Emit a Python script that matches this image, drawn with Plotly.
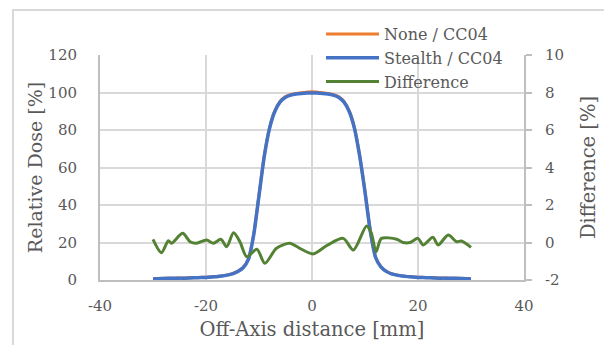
import plotly.graph_objects as go

# ---- data ----
x_dose = list(range(-30, 31))
stealth = [0.6, 0.7, 0.8, 0.9, 0.9, 1.0, 1.0, 1.1, 1.2, 1.3,
           1.4, 1.6, 1.8, 2.1, 2.6, 3.3, 4.5, 6.5, 11, 24,
           45, 66, 81, 90, 95, 97.5, 98.6, 99.2, 99.5, 99.7,
           99.8,
           99.7, 99.5, 99.2, 98.6, 97.5, 95, 90, 81, 66, 47,
           26, 12, 7, 4.6, 3.3, 2.6, 2.1, 1.8, 1.6, 1.4,
           1.3, 1.2, 1.1, 1.0, 1.0, 0.9, 0.9, 0.8, 0.7, 0.6]
none = [0.7, 0.8, 0.9, 1.0, 1.0, 1.1, 1.1, 1.2, 1.3, 1.4,
        1.5, 1.7, 1.9, 2.2, 2.7, 3.4, 4.6, 6.6, 11.2, 24.5,
        45.5, 66.5, 81.3, 90.3, 95.3, 97.8, 98.9, 99.5, 99.9, 100.2,
        100.4,
        100.2, 99.9, 99.5, 98.9, 97.8, 95.3, 90.3, 81.3, 66.4, 47.2,
        26.3, 12.2, 7.1, 4.7, 3.4, 2.7, 2.2, 1.9, 1.7, 1.5,
        1.4, 1.3, 1.2, 1.1, 1.1, 1.0, 1.0, 0.9, 0.8, 0.7]

x_diff = [-30, -28.4, -27.1, -26.5, -24.4, -23.0, -21.8, -19.9, -18.6, -17.2,
          -16.1, -14.8, -13.6, -12.3, -10.4, -8.9, -6.7, -4.2, -2.3, 0.2,
          2.8, 5.9, 7.8, 10.3, 11.2, 12.1, 13.1, 16.0, 17.2, 18.5,
          20.0, 21.0, 22.8, 23.8, 25.7, 27.3, 28.2, 30.0]
difference = [0.17, -0.54, 0.10, -0.04, 0.49, 0.04, -0.04, 0.13, -0.04, 0.17,
              -0.22, 0.52, 0.04, -0.76, -0.36, -1.11, -0.31, -0.04, -0.31, -0.61,
              -0.16, 0.22, -0.40, 0.88, 0.49, -0.49, 0.22, 0.17, 0.0, 0.0,
              0.22, -0.13, 0.28, -0.13, 0.40, 0.04, 0.08, -0.26]

x_ticks = [-40, -20, 0, 20, 40]
x_ticklabels = ["-40", "-20", "0", "20", "40"]
y_ticks = [0, 20, 40, 60, 80, 100, 120]
y_ticklabels = ["0", "20", "40", "60", "80", "100", "120"]
y2_ticks = [-2, 0, 2, 4, 6, 8, 10]
y2_ticklabels = ["-2", "0", "2", "4", "6", "8", "10"]

FONT = "DejaVu Serif"
TXT = "#595959"
GRID = "#d9d9d9"
AX = "#bfbfbf"

fig = go.Figure()
fig.add_trace(go.Scatter(x=x_dose, y=none, name="None / CC04", mode="lines",
                         line=dict(color="#ED7D31", width=3, shape="spline", smoothing=0.6)))
fig.add_trace(go.Scatter(x=x_dose, y=stealth, name="Stealth / CC04", mode="lines",
                         line=dict(color="#4472C4", width=3.5, shape="spline", smoothing=0.6)))
fig.add_trace(go.Scatter(x=x_diff, y=difference, name="Difference", mode="lines", yaxis="y2",
                         line=dict(color="#548235", width=3, shape="spline", smoothing=0.8)))

# page has an 8px body margin: figure is drawn from (8, 8)
OFF = 8
W, H = 612 - OFF, 345 - OFF
L, T = 100 - OFF, 55 - OFF
pw, ph = 424, 225
R = W - L - pw
B = H - T - ph

def px(xs):  # screen x -> paper
    return (xs - OFF - L) / pw

def py(ys):  # screen y -> paper
    return (T + ph - (ys - OFF)) / ph

TF = dict(family=FONT, size=15, color=TXT)

fig.update_layout(
    width=W, height=H,
    margin=dict(l=L, r=R, t=T, b=B, autoexpand=False),
    paper_bgcolor="white", plot_bgcolor="white",
    font=dict(family=FONT, size=16, color=TXT),
    showlegend=True,
    legend=dict(x=px(321), y=py(17), xanchor="left", yanchor="top",
                bgcolor="rgba(0,0,0,0)", font=dict(family=FONT, size=16, color=TXT),
                tracegroupgap=0, itemwidth=53),
    xaxis=dict(range=[-40, 40], tickvals=x_ticks, ticktext=x_ticklabels,
               showgrid=True, gridcolor=GRID, gridwidth=1.5, automargin=False,
               showline=True, linecolor=AX, linewidth=2, zeroline=False, ticks="",
               ticklabelstandoff=11, tickfont=TF,
               title=dict(text="Off-Axis distance [mm]", font=dict(family=FONT, size=19.5, color=TXT), standoff=8)),
    yaxis=dict(range=[0, 120], tickvals=y_ticks, ticktext=y_ticklabels,
               showgrid=True, gridcolor=GRID, gridwidth=1.5, automargin=False,
               showline=True, linecolor=AX, linewidth=2, zeroline=False, ticks="",
               ticklabelstandoff=18, tickfont=TF,
               title=dict(text="Relative Dose [%]", font=dict(family=FONT, size=19, color=TXT), standoff=1)),
    yaxis2=dict(range=[-2, 10], tickvals=y2_ticks, ticktext=y2_ticklabels,
                overlaying="y", side="right", showgrid=False, automargin=False,
                showline=True, linecolor=AX, linewidth=2, zeroline=False,
                ticks="outside", ticklen=6, tickcolor=AX, tickwidth=2,
                ticklabelstandoff=10, tickfont=TF,
                title=dict(text="Difference [%]", font=dict(family=FONT, size=19.5, color=TXT), standoff=18)),
    shapes=[dict(type="rect", xref="paper", yref="paper",
                 x0=px(13), x1=px(660), y0=py(380), y1=py(10),
                 line=dict(color=GRID, width=2), layer="below")],
)

fig.write_html("out.html")
